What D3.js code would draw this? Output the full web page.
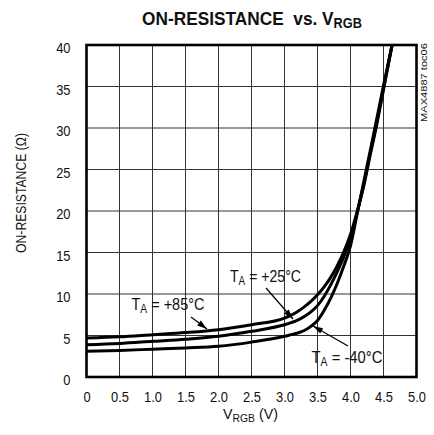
<!DOCTYPE html>
<html>
<head>
<meta charset="utf-8">
<script src="https://cdn.jsdelivr.net/npm/d3@7"></script>
<style>
  html, body { margin: 0; padding: 0; background: #fff; }
  svg text { font-family: "Liberation Sans", Arial, Helvetica, sans-serif; fill: #111; }
</style>
</head>
<body>
<svg id="chart" width="434" height="435"></svg>
<script>
// On-resistance (ohm) vs. supply voltage (V) at three temperatures
const vSweep = [0, 0.5, 1.0, 1.5, 2.0, 2.5, 3.0, 3.1, 3.2, 3.3, 3.4, 3.5, 3.6, 3.7, 3.8, 3.9, 4.0, 4.1, 4.2, 4.3, 4.4, 4.5, 4.63];
const r85  = [4.7, 4.85, 5.1, 5.35, 5.7, 6.3, 7.1, 7.45, 7.9, 8.45, 9.1, 9.9, 10.85, 12.0, 13.4, 15.1, 17.2, 19.9, 23.0, 26.8, 30.5, 34.6, 40];
const r25  = [3.9, 4.05, 4.3, 4.55, 4.9, 5.5, 6.3, 6.55, 6.85, 7.3, 7.85, 8.6, 9.7, 11.1, 12.7, 14.5, 16.7, 19.8, 23.2, 27.0, 30.8, 34.8, 40];
const rm40 = [3.1, 3.2, 3.35, 3.5, 3.7, 4.2, 4.9, 5.1, 5.3, 5.6, 6.1, 6.8, 8.0, 9.5, 11.3, 13.4, 15.8, 19.6, 23.5, 27.3, 31.2, 35.1, 40];

const xTicks = [0, 0.5, 1.0, 1.5, 2.0, 2.5, 3.0, 3.5, 4.0, 4.5, 5.0];
const yTicks = [0, 5, 10, 15, 20, 25, 30, 35, 40];

const svg = d3.select("#chart");
const plotL = 86.5, plotR = 416.5, plotT = 45, plotB = 377;

const x = d3.scaleLinear().domain([0, 5]).range([plotL, plotR]);
const y = d3.scaleLinear().domain([0, 40]).range([plotB, plotT]);

// Place a text at (px, py) and squeeze it horizontally to a given width
function fitText(sel, px, py, width, rotate) {
  const w = sel.node().getBBox().width;
  const k = width / w;
  sel.attr("transform", `translate(${px},${py})${rotate ? " rotate(-90)" : ""} scale(${k},1)`);
  return sel;
}

// Title
const title = svg.append("text").attr("text-anchor", "middle")
  .style("font-weight", "bold").style("font-size", "19px");
title.append("tspan").text("ON-RESISTANCE\u00A0\u00A0vs. V");
title.append("tspan").attr("dy", 3).style("font-size", "14px").text("RGB");
fitText(title, 252, 25, 220);

// Grid
const grid = svg.append("g").attr("stroke", "#333").attr("stroke-width", 1);
grid.selectAll("line.vx").data(xTicks.slice(1, -1)).join("line")
  .attr("x1", d => x(d)).attr("x2", d => x(d))
  .attr("y1", plotT).attr("y2", plotB);
grid.selectAll("line.hy").data(yTicks.slice(1, -1)).join("line")
  .attr("x1", plotL).attr("x2", plotR)
  .attr("y1", d => y(d)).attr("y2", d => y(d));

// Curves
const line = d3.line().x(d => x(d[0])).y(d => y(d[1])).curve(d3.curveMonotoneX);
const series = [
  d3.zip(vSweep, r85),
  d3.zip(vSweep, r25),
  d3.zip(vSweep, rm40)
];
svg.append("defs").append("clipPath").attr("id", "plot")
  .append("rect").attr("x", plotL).attr("y", plotT).attr("width", plotR - plotL).attr("height", plotB - plotT);
svg.append("g").attr("clip-path", "url(#plot)")
  .selectAll("path").data(series).join("path")
  .attr("d", line)
  .attr("fill", "none").attr("stroke", "#000").attr("stroke-width", 3);

// Frame
svg.append("rect")
  .attr("x", plotL).attr("y", plotT).attr("width", plotR - plotL).attr("height", plotB - plotT)
  .attr("fill", "none").attr("stroke", "#000").attr("stroke-width", 2.6);

// Axes (labels only; the frame and grid carry the lines)
const squeeze = 0.86;
const xAxis = d3.axisBottom(x).tickValues(xTicks)
  .tickFormat(d => d === 0 ? "0" : d3.format(".1f")(d)).tickSize(0).tickPadding(14);
const gx = svg.append("g").attr("transform", `translate(0,${plotB})`).call(xAxis);
gx.select(".domain").remove();
gx.selectAll("text").style("font-size", "15px").attr("fill", "#111")
  .attr("transform", `scale(${squeeze},1)`);

const yAxis = d3.axisLeft(y).tickValues(yTicks).tickSize(0).tickPadding(16);
const gy = svg.append("g").attr("transform", `translate(${plotL},0)`).call(yAxis);
gy.select(".domain").remove();
gy.selectAll("text").style("font-size", "15px").attr("fill", "#111")
  .attr("dy", "0.5em").attr("x", -16 / squeeze)
  .attr("transform", `scale(${squeeze},1)`);

// Axis titles
const xl = svg.append("text").attr("text-anchor", "middle").style("font-size", "15px");
xl.append("tspan").text("V");
xl.append("tspan").attr("dy", 3).style("font-size", "11px").text("RGB");
xl.append("tspan").attr("dy", -3).text(" (V)");
fitText(xl, 250.5, 419, 55);

const yl = svg.append("text").attr("text-anchor", "middle").style("font-size", "15px")
  .text("ON-RESISTANCE (\u03A9)");
fitText(yl, 26, 193, 120, true);

const tag = svg.append("text").attr("text-anchor", "middle").style("font-size", "9px")
  .text("MAX4887 toc06");
fitText(tag, 427, 82.5, 79, true);

// Curve annotations
svg.append("defs").append("marker")
  .attr("id", "ah").attr("viewBox", "0 0 10 6")
  .attr("refX", 10).attr("refY", 3)
  .attr("markerWidth", 12).attr("markerHeight", 6)
  .attr("markerUnits", "userSpaceOnUse").attr("orient", "auto")
  .append("path").attr("d", "M0,0 L10,3 L0,6 Z").attr("fill", "#000");

const notes = [
  { label: "+85°C", tx: 131.5, ty: 310,   w: 73, from: [191, 317], to: [207, 329] },
  { label: "+25°C", tx: 230,   ty: 281.5, w: 71, from: [266, 288], to: [293, 319] },
  { label: "-40°C", tx: 311.5, ty: 362.5, w: 71, from: [348, 346], to: [313, 326] }
];
notes.forEach(n => {
  const t = svg.append("text").style("font-size", "17px");
  t.append("tspan").text("T");
  t.append("tspan").attr("dy", 3).style("font-size", "12px").text("A");
  t.append("tspan").attr("dy", -3).text(" = " + n.label);
  fitText(t, n.tx, n.ty, n.w);
  svg.append("line")
    .attr("x1", n.from[0]).attr("y1", n.from[1])
    .attr("x2", n.to[0]).attr("y2", n.to[1])
    .attr("stroke", "#000").attr("stroke-width", 1.2)
    .attr("marker-end", "url(#ah)");
});
</script>
</body>
</html>
